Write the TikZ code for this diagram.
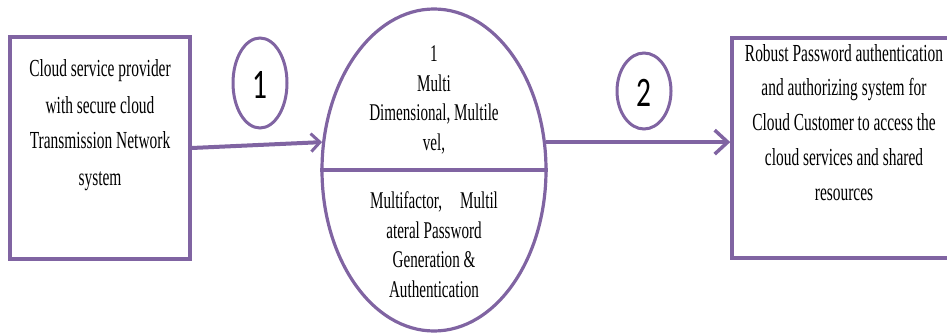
\documentclass[tikz,border=0pt]{standalone}
\usepackage{fontspec}
\setmainfont{Liberation Serif}[FakeStretch=0.63]
\newfontfamily\numfont{Carlito}[FakeStretch=0.7]
\usetikzlibrary{arrows.meta,shapes.geometric}
\definecolor{lineviolet}{HTML}{8064A2}
\tikzset{
  boxshape/.style={draw=lineviolet, line width=3.5pt, inner sep=0pt},
  procshape/.style={draw=lineviolet, line width=3.2pt, ellipse, inner sep=0pt},
  tagshape/.style={draw=lineviolet, line width=3pt, ellipse, inner sep=0pt},
  bodytext/.style={align=center, inner sep=0pt, anchor=base},
  proctext/.style={align=center, inner sep=0pt, anchor=base, font=\fontsize{24}{29.5}\selectfont},
  tagtext/.style={inner sep=0pt, font=\numfont\fontsize{42}{42}\selectfont},
  flow/.style={draw=lineviolet, line width=4pt}
}
\begin{document}
\begin{tikzpicture}[x=1pt, y=-1pt]
\useasboundingbox (0,0) rectangle (947,334);

% source and sink boxes
\node[boxshape, minimum width=180pt, minimum height=222pt] (src) at (100,148) {};
\node[boxshape, minimum width=228pt, minimum height=220pt] (dst) at (846,148) {};

% multi-line nodes sit on the baseline of their last line
\node[bodytext, font=\fontsize{24.5}{36}\selectfont] (srctxt) at (100,185)
  {Cloud service provider\\with secure cloud\\Transmission Network\\system};
\node[bodytext, font=\fontsize{24.5}{34.75}\selectfont] (dsttxt) at (844,200)
  {Robust Password authentication\\and authorizing system for\\Cloud Customer to access the\\cloud services and shared\\resources};

% central process
\node[procshape, minimum width=224pt, minimum height=322pt] (proc) at (434,170) {};
\draw[draw=lineviolet, line width=3.2pt] (proc.west) -- (proc.east);

\node[proctext] (proctop) at (434,150)
  {1\\Multi\\Dimensional, Multile\\vel,};
\node[proctext] (procbot) at (434,297)
  {Multifactor,\hspace{18pt}Multil\\ateral Password\\Generation \&\\Authentication};

% flow tags
\node[tagshape, minimum width=54pt, minimum height=90pt] (tagA) at (260,83) {};
\node[tagtext] (tagAtxt) at (260,85) {1};
\node[tagshape, minimum width=54pt, minimum height=76pt] (tagB) at (644,91) {};
\node[tagtext] (tagBtxt) at (644,93) {2};

% flows
\draw[flow, -{Straight Barb[length=9pt, width=18pt, line width=3pt]}]
  (src.east) -- (proc.166);
\draw[flow, -{Straight Barb[length=13pt, width=24pt, line width=3.5pt]}]
  (proc.14) -- (proc.14 -| dst.west);
\end{tikzpicture}
\end{document}
